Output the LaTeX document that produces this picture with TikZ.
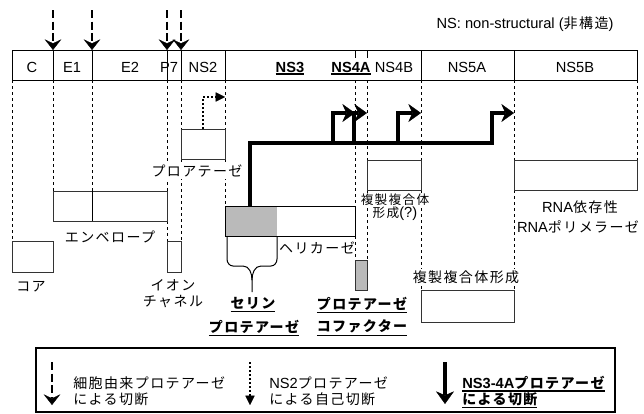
\documentclass[tikz,border=0pt]{standalone}
\usepackage{fontspec}
\setmainfont{Liberation Sans}
\newfontfamily\cjk{Noto Sans CJK JP}[LetterSpace=10]
\usetikzlibrary{arrows.meta}
\newcommand\jp[1]{{\fontsize{10.5}{12}\selectfont\cjk #1}}
\newcommand\jps[1]{{\fontsize{9.5}{11}\selectfont\cjk #1}}
\newcommand\myul[1]{\leavevmode\vtop{\hbox{#1}\kern0.9pt\hrule height 1.1pt}}
\begin{document}
\begin{tikzpicture}[x=0.75pt,y=-0.75pt,
  every node/.style={inner sep=0pt, font=\fontsize{11}{13}\selectfont},
  guide/.style={draw=black, line width=0.6pt, dash pattern=on 2.5pt off 2pt},
  seg/.style={draw=black, line width=0.75pt},
  box/.style={draw=black!80, line width=0.75pt},
  grayfill/.style={fill=black!27},
  hostcut/.style={line width=2.2pt, dash pattern=on 6pt off 2.8pt, -{Stealth[length=8pt,width=12.5pt,inset=3pt,line width=0.3pt]}},
  ns2cut/.style={line width=1.5pt, dash pattern=on 1.5pt off 1.5pt, -{Triangle[length=7pt,width=7pt,line width=0.3pt]}},
  ns3line/.style={line width=2.8pt, line join=miter},
  ns3cut/.style={ns3line, -{Stealth[length=9.5pt,width=13.5pt,inset=3pt,line width=0.3pt]}},
  wbg/.style={fill=white, inner sep=1pt},
]
\useasboundingbox[fill=white] (0,0) rectangle (644,414);

% note
\node[anchor=base] (note) at (525,28) {NS: non-structural (\jp{非構造})};

% cleavage arrows from host proteases
\foreach \x/\n in {53/a,92/b,167/c,181/d} {
  \coordinate (top\n) at (\x,10);
  \coordinate (bar\n) at (\x,50);
  \draw[hostcut] (top\n) -- (bar\n);
}

% genome bar
\draw[seg] (12,50) rectangle (637,80);
\foreach \x in {53,92,167,181,225,421,514} \draw[seg] (\x,50) -- (\x,80);
\draw[seg] (355,50) -- (355,58);
\draw[seg] (367,50) -- (367,58);

\node[anchor=base] (gC) at (32,72) {C};
\node[anchor=base] (gE1) at (72,72) {E1};
\node[anchor=base] (gE2) at (130,72) {E2};
\node[anchor=base] (gP7) at (169,72) {P7};
\node[anchor=base] (gNS2) at (203,72) {NS2};
\node[anchor=base] (gNS3) at (290,72) {\myul{\bfseries NS3}};
\node[anchor=base] (gNS4A) at (351,72) {\myul{\bfseries NS4A}};
\node[anchor=base] (gNS4B) at (394,72) {NS4B};
\node[anchor=base] (gNS5A) at (467,72) {NS5A};
\node[anchor=base] (gNS5B) at (575,72) {NS5B};

% guide lines
\draw[guide] (12,80) -- (12,241);
\draw[guide] (53,80) -- (53,191);
\draw[guide] (92,80) -- (92,191);
\draw[guide] (167,80) -- (167,191);
\draw[guide] (167,221) -- (167,241);
\draw[guide] (181,80) -- (181,129);
\draw[guide] (181,159) -- (181,241);
\draw[guide] (225,80) -- (225,129);
\draw[guide] (225,159) -- (225,206);
\draw[guide] (355,80) -- (355,206);
\draw[guide] (355,236) -- (355,260);
\draw[guide] (367,80) -- (367,160);
\draw[guide] (367,190) -- (367,260);
\draw[guide] (421,80) -- (421,160);
\draw[guide] (421,190) -- (421,290);
\draw[guide] (514,80) -- (514,160);
\draw[guide] (514,190) -- (514,290);
\draw[guide] (637,80) -- (637,160);

% protein boxes
\draw[box] (12,241) rectangle (53,272);
\draw[box] (53,191) rectangle (167,221);
\draw[seg] (92,191) -- (92,221);
\draw[box] (167,241) rectangle (181,272);
\draw[box] (181,129) rectangle (225,159);
\fill[grayfill] (225,206) rectangle (277,236);
\draw[box, draw=black] (225,206) rectangle (355,236);
\draw[box, grayfill] (355,260) rectangle (367,290);
\draw[box] (367,160) rectangle (421,190);
\draw[box] (421,290) rectangle (514,322);
\draw[box] (514,160) rectangle (637,190);

% NS2 autocleavage
\coordinate (ns2a) at (203,129);
\coordinate (ns2t) at (225,97);
\draw[ns2cut] (ns2a) |- (ns2t);

% NS3-4A cleavage
\coordinate (s0) at (250,206);
\coordinate (s1) at (250,143);
\coordinate (c1) at (355,113);
\coordinate (c2) at (367,113);
\coordinate (c3) at (421,113);
\coordinate (c4) at (514,113);
\draw[ns3cut] (s0) -- (s1) -- (492,143) -- (492,113) -- (c4);
\draw[ns3cut] (333,143) -- (333,113) -- (c1);
\draw[ns3cut] (354,143) -- (354,113) -- (c2);
\draw[ns3cut] (398,143) -- (398,113) -- (c3);

% brace
\draw[line width=0.75pt] (227,236) -- (227,259) to[out=-90,in=180] (233,266) -- (243,266)
  to[out=0,in=90] (252,280) -- (252,292);
\draw[line width=0.75pt] (277,236) -- (277,259) to[out=-90,in=0] (271,266) -- (261,266)
  to[out=180,in=90] (252,280);

% labels
\node[wbg] (lpro) at (197,171) {\jp{プロアテーゼ}};
\node (lhel) at (317,248) {\jp{ヘリカーゼ}};
\node (lenv) at (110,237) {\jp{エンベロープ}};
\node (lcore) at (31,287) {\jp{コア}};
\node (lion1) at (173,285) {\jp{イオン}};
\node (lion2) at (173,302) {\jp{チャネル}};
\node (lser1) at (253,305) {\myul{\bfseries\jp{セリン}}};
\node (lser2) at (254,328) {\myul{\bfseries\jp{プロテアーゼ}}};
\node (lcof1) at (362,305) {\myul{\bfseries\jp{プロテアーゼ}}};
\node (lcof2) at (362,328) {\myul{\bfseries\jp{コファクター}}};
\node[wbg] (lrep1) at (395,200) {\jps{複製複合体}};
\node[wbg] (lrep2) at (395,214) {\jps{形成}(?)};
\node[wbg] (lrep3) at (466,277) {\jp{複製複合体形成}};
\node (lrna1) at (580,207) {RNA\jp{依存性}};
\node (lrna2) at (578,227) {RNA\jp{ポリメラーゼ}};

% legend
\draw[line width=0.9pt] (36,348) rectangle (615,412);
\coordinate (k1a) at (52,362); \coordinate (k1b) at (52,405);
\draw[hostcut] (k1a) -- (k1b);
\node[anchor=west] (k1t1) at (73,383) {\jp{細胞由来プロテアーゼ}};
\node[anchor=west] (k1t2) at (73,399) {\jp{による切断}};
\coordinate (k2a) at (250,362); \coordinate (k2b) at (250,405);
\draw[ns2cut, line width=1.1pt] (k2a) -- (k2b);
\node[anchor=west] (k2t1) at (269,383) {NS2\jp{プロテアーゼ}};
\node[anchor=west] (k2t2) at (269,399) {\jp{による自己切断}};
\coordinate (k3a) at (445,362); \coordinate (k3b) at (445,404);
\draw[ns3cut] (k3a) -- (k3b);
\node[anchor=base west] (k3t1) at (462,388) {\myul{\bfseries NS3-4A\jp{プロテアーゼ}}};
\node[anchor=base west] (k3t2) at (462,404) {\myul{\bfseries\jp{による切断}}};
\end{tikzpicture}
\end{document}
